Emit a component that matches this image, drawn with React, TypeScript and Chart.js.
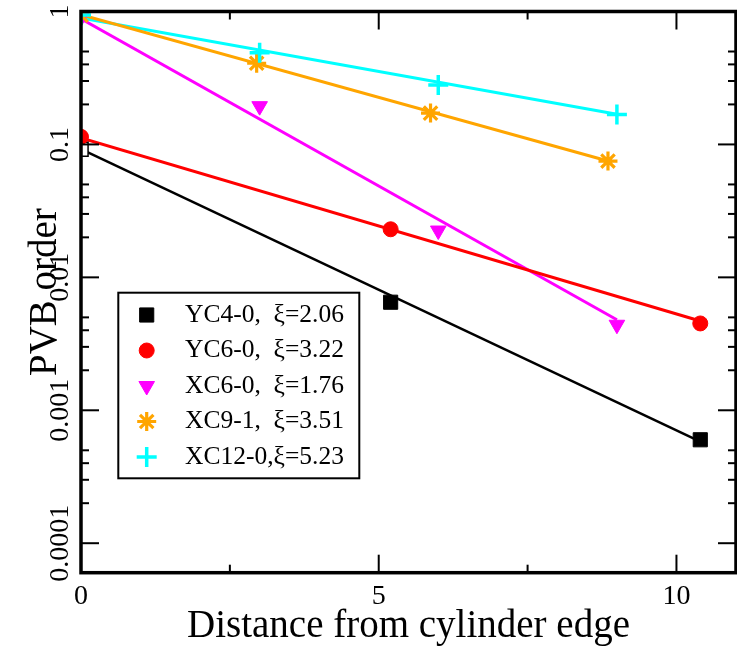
import React, { useEffect, useRef } from 'react';
import { Chart, registerables } from 'chart.js';
import { drawPoint } from 'chart.js/helpers';

Chart.register(...registerables);

// ---- data ----
const seriesLabels = ['YC4-0,  ξ=2.06', 'YC6-0,  ξ=3.22', 'XC6-0,  ξ=1.76', 'XC9-1,  ξ=3.51', 'XC12-0,ξ=5.23'];
const seriesColors = ['#000000', '#ff0000', '#ff00ff', '#ffa500', '#00ffff'];

const yc40X = [0, 5.2, 10.4];
const yc40Y = [0.092, 0.0065, 0.0006];
const yc60X = [0, 5.2, 10.4];
const yc60Y = [0.114, 0.023, 0.0045];
const xc60X = [0, 3, 6, 9];
const xc60Y = [0.9, 0.194, 0.0225, 0.0044];
const xc91X = [0, 2.95, 5.87, 8.85];
const xc91Y = [0.94, 0.408, 0.172, 0.075];
const xc120X = [0, 3, 6, 9];
const xc120Y = [0.94, 0.49, 0.28, 0.168];

// exponential fit lines (end points)
const yc40FitX = [0, 10.4];
const yc40FitY = [0.092, 0.00058];
const yc60FitX = [0, 10.4];
const yc60FitY = [0.112, 0.0047];
const xc60FitX = [0, 9];
const xc60FitY = [0.88, 0.0048];
const xc91FitX = [0, 8.85];
const xc91FitY = [0.946, 0.0751];
const xc120FitX = [0, 9];
const xc120FitY = [0.894, 0.1687];

const xMin = 0;
const xMax = 11;
const yMin = 6e-5;
const yMax = 1;
const xTicks = [0, 5, 10];
const xTickLabels = ['0', '5', '10'];
const xMinorTicks = [2.5, 7.5];
const yTicks = [1e-4, 1e-3, 1e-2, 0.1, 1];
const yTickLabels = ['0.0001', '0.001', '0.01', '0.1', '1'];
const yMinorTicks = [2e-4, 3e-4, 4e-4, 5e-4, 2e-3, 3e-3, 4e-3, 5e-3, 2e-2, 3e-2, 4e-2, 5e-2, 0.2, 0.3, 0.4, 0.5];

const xTitle = 'Distance from cylinder edge';
const yTitle = 'PVB order';

const FONT = "'Liberation Serif', 'Times New Roman', serif";

const pts = (xs: number[], ys: number[]) => xs.map((x, i) => ({ x, y: ys[i] }));

const markerStyles = [
  { pointStyle: 'rect', radius: 10, rotation: 0, borderWidth: 1 },
  { pointStyle: 'circle', radius: 7.5, rotation: 0, borderWidth: 1 },
  { pointStyle: 'triangle', radius: 9, rotation: 180, borderWidth: 1 },
  { pointStyle: 'star', radius: 9.5, rotation: 0, borderWidth: 3.2 },
  { pointStyle: 'cross', radius: 10, rotation: 0, borderWidth: 3.5 },
];

const framePlugin = {
  id: 'frame',
  afterDatasetsDraw(chart: any) {
    const { ctx, chartArea: a, scales } = chart;
    const xs = scales.x;
    const ys = scales.y;
    ctx.save();
    ctx.strokeStyle = '#000';
    ctx.lineWidth = 2;
    const tick = (x1: number, y1: number, x2: number, y2: number) => {
      ctx.beginPath();
      ctx.moveTo(x1, y1);
      ctx.lineTo(x2, y2);
      ctx.stroke();
    };
    const major = 18;
    const minor = 8;
    xTicks.forEach((v) => {
      const p = xs.getPixelForValue(v);
      tick(p, a.bottom, p, a.bottom - major);
      tick(p, a.top, p, a.top + major);
    });
    xMinorTicks.forEach((v) => {
      const p = xs.getPixelForValue(v);
      tick(p, a.bottom, p, a.bottom - minor);
      tick(p, a.top, p, a.top + minor);
    });
    yTicks.forEach((v) => {
      const p = ys.getPixelForValue(v);
      tick(a.left, p, a.left + major, p);
      tick(a.right, p, a.right - major, p);
    });
    yMinorTicks.forEach((v) => {
      const p = ys.getPixelForValue(v);
      tick(a.left, p, a.left + minor, p);
      tick(a.right, p, a.right - minor, p);
    });
    ctx.lineWidth = 3.5;
    ctx.strokeRect(a.left, a.top, a.right - a.left, a.bottom - a.top);
    ctx.restore();
  },
};

const legendPlugin = {
  id: 'boxLegend',
  afterDraw(chart: any) {
    const { ctx } = chart;
    ctx.save();
    ctx.strokeStyle = '#000';
    ctx.lineWidth = 2;
    ctx.strokeRect(118.3, 292.7, 241, 185.6);
    ctx.font = `25.5px ${FONT}`;
    ctx.textBaseline = 'alphabetic';
    ctx.textAlign = 'left';
    seriesLabels.forEach((label, i) => {
      const cy = 315 + 35.5 * i;
      const m = markerStyles[i];
      ctx.fillStyle = seriesColors[i];
      ctx.strokeStyle = seriesColors[i];
      ctx.lineWidth = m.borderWidth;
      drawPoint(ctx, { pointStyle: m.pointStyle, radius: m.radius, rotation: m.rotation, borderWidth: m.borderWidth } as any, 146.7, cy);
      ctx.fillStyle = '#000';
      ctx.fillText(label, 185, 321.7 + 35.5 * i);
    });
    ctx.restore();
  },
};

const zeroPad = (scale: any) => {
  scale.paddingLeft = 0;
  scale.paddingRight = 0;
  scale.paddingTop = 0;
  scale.paddingBottom = 0;
};

export default function App() {
  const ref = useRef<HTMLCanvasElement | null>(null);
  useEffect(() => {
    if (!ref.current) return;
    Chart.defaults.font.family = FONT;
    Chart.defaults.color = '#000';
    const pointSets = [
      [xc120X, xc120Y],
      [xc91X, xc91Y],
      [xc60X, xc60Y],
      [yc60X, yc60Y],
      [yc40X, yc40Y],
    ];
    const order = [4, 3, 2, 1, 0];
    const scatterDatasets = pointSets.map(([xs, ys], k) => {
      const i = order[k];
      const m = markerStyles[i];
      const isBlack = i === 0;
      return {
        label: seriesLabels[i],
        data: pts(xs, ys),
        showLine: false,
        pointStyle: m.pointStyle,
        pointRadius: m.radius,
        pointRotation: m.rotation,
        pointBorderWidth: isBlack ? xs.map((_, j) => (j === 0 ? 1.5 : 1)) : m.borderWidth,
        pointBackgroundColor: isBlack ? xs.map((_, j) => (j === 0 ? '#ffffff' : '#000000')) : seriesColors[i],
        pointBorderColor: seriesColors[i],
        backgroundColor: seriesColors[i],
        borderColor: seriesColors[i],
      };
    });
    const fits = [
      [yc40FitX, yc40FitY, 0],
      [yc60FitX, yc60FitY, 1],
      [xc60FitX, xc60FitY, 2],
      [xc91FitX, xc91FitY, 3],
      [xc120FitX, xc120FitY, 4],
    ] as [number[], number[], number][];
    const lineDatasets = fits.map(([xs, ys, i]) => ({
      label: seriesLabels[i] + ' fit',
      data: pts(xs, ys),
      showLine: true,
      pointRadius: 0,
      borderColor: seriesColors[i],
      backgroundColor: seriesColors[i],
      borderWidth: i === 0 ? 2.5 : 3,
      fill: false,
    }));

    const chart = new Chart(ref.current, {
      type: 'scatter',
      data: { datasets: [...scatterDatasets, ...lineDatasets] as any },
      options: {
        responsive: false,
        animation: false,
        layout: { autoPadding: false, padding: { left: 0, right: 1, top: 11.5, bottom: 0 } },
        plugins: {
          legend: { display: false },
          tooltip: { enabled: false },
        },
        scales: {
          x: {
            type: 'linear',
            min: xMin,
            max: xMax,
            afterBuildTicks: (scale: any) => {
              scale.ticks = xTicks.map((v) => ({ value: v }));
            },
            afterFit: (scale: any) => {
              scale.height = 78.3;
              zeroPad(scale);
            },
            grid: { display: false, drawTicks: false },
            border: { display: false },
            ticks: {
              autoSkip: false,
              maxRotation: 0,
              minRotation: 0,
              padding: 7,
              font: { size: 28, family: FONT },
              color: '#000',
              callback: (v: any) => xTickLabels[xTicks.indexOf(Number(v))],
            },
            title: {
              display: true,
              text: xTitle,
              font: { size: 39, family: FONT },
              color: '#000',
              padding: { top: 0, bottom: 0.5 },
            },
          },
          y: {
            type: 'logarithmic',
            min: yMin,
            max: yMax,
            afterBuildTicks: (scale: any) => {
              scale.ticks = yTicks.map((v) => ({ value: v }));
            },
            afterFit: (scale: any) => {
              scale.width = 81;
              zeroPad(scale);
            },
            grid: { display: false, drawTicks: false },
            border: { display: false },
            ticks: {
              autoSkip: false,
              minRotation: 90,
              maxRotation: 90,
              crossAlign: 'center',
              padding: -18.5,
              font: { size: 28, family: FONT },
              color: '#000',
              callback: (v: any) => yTickLabels[yTicks.indexOf(Number(v))],
            },
            title: {
              display: true,
              text: yTitle,
              font: { size: 39, family: FONT },
              color: '#000',
              padding: { top: 22.6, bottom: 0 },
            },
          },
        },
      } as any,
      plugins: [framePlugin, legendPlugin],
    });
    return () => chart.destroy();
  }, []);
  return (
    <div style={{ position: 'absolute', left: 0, top: 0, width: 737, height: 651, background: '#fff' }}>
      <canvas ref={ref} width={737} height={651} />
    </div>
  );
}
